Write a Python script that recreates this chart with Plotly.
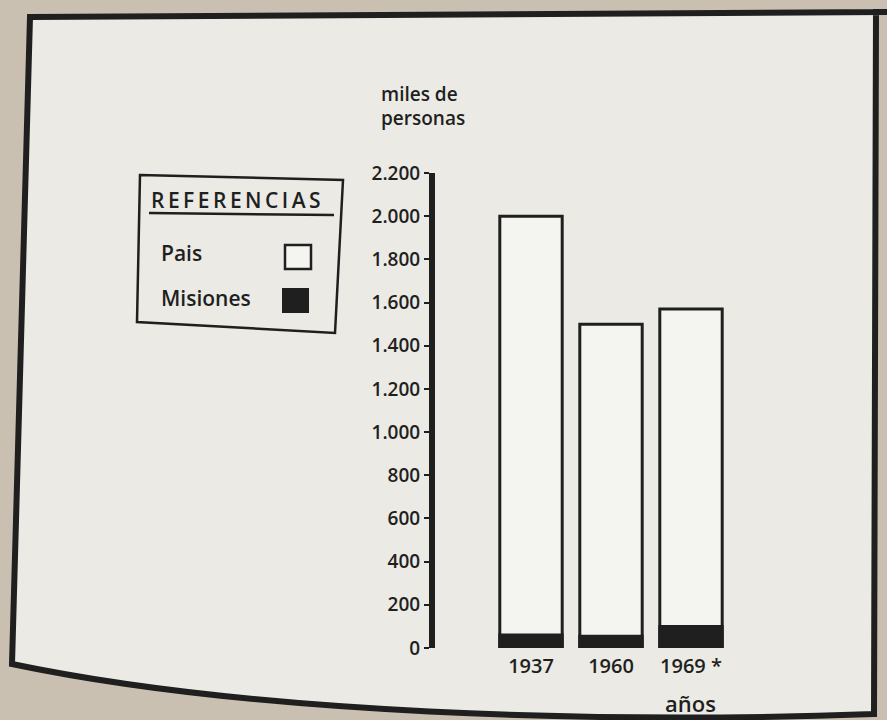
import plotly.graph_objects as go

# Population by year, in thousands of people
years = ["1937", "1960", "1969 *"]
pais = [2000, 1500, 1570]
misiones = [60, 55, 100]

y_ticks = [0, 200, 400, 600, 800, 1000, 1200, 1400, 1600, 1800, 2000, 2200]
y_tick_labels = ["0", "200", "400", "600", "800", "1.000", "1.200", "1.400",
                 "1.600", "1.800", "2.000", "2.200"]

W, H = 887, 720
PLOT_L, PLOT_R, PLOT_T, PLOT_B = 435, 731, 173, 648

INK = "#1f1f1f"
PAGE = "#ebeae4"
OUTSIDE = "#c9c0b2"
FONT = "Open Sans"
WEIGHT = 600


def px(x):
    return (x - PLOT_L) / (PLOT_R - PLOT_L)


def py(y):
    return (PLOT_B - y) / (PLOT_B - PLOT_T)


def pt(x, y):
    return f"{px(x):.5f},{py(y):.5f}"


def path(points, close=True):
    d = "M " + " L ".join(pt(x, y) for x, y in points)
    return d + (" Z" if close else "")


def tfont(size):
    return dict(family=FONT, size=size, color=INK, weight=WEIGHT)


def label(text, x, y, size, anchor="left"):
    return dict(text=text, x=px(x), y=py(y), xref="paper", yref="paper",
                xanchor=anchor, yanchor="middle", showarrow=False, font=tfont(size))


fig = go.Figure()

# Total for the country: open white bar
fig.add_trace(go.Bar(
    x=years, y=pais, name="Pais",
    marker=dict(color="#f4f4f0", line=dict(color=INK, width=3)),
    width=0.78,
))
# Misiones: solid dark bar drawn over the base of each country bar
fig.add_trace(go.Bar(
    x=years, y=misiones, name="Misiones",
    marker=dict(color=INK, line=dict(color=INK, width=3)),
    width=0.78,
))

shapes = []
# Page frame
shapes.append(dict(
    type="path", xref="paper", yref="paper", layer="below",
    path=(f"M {pt(30, 17)} L {pt(887, 12)} L {pt(876, 12)} L {pt(874, 714)} "
          f"C {pt(600, 724)} {pt(250, 714)} {pt(12, 664)} Z"),
    fillcolor=PAGE, line=dict(color=INK, width=6),
))
# Legend box
shapes.append(dict(
    type="path", xref="paper", yref="paper",
    path=path([(140, 175), (343, 180), (335, 333), (137, 322)]),
    line=dict(color=INK, width=2.5),
))
# Underline of the legend heading
shapes.append(dict(
    type="line", xref="paper", yref="paper",
    x0=px(149), y0=py(213), x1=px(334), y1=py(215),
    line=dict(color=INK, width=2.5),
))
# Legend swatches
shapes.append(dict(
    type="rect", xref="paper", yref="paper",
    x0=px(285), y0=py(245), x1=px(311), y1=py(269),
    fillcolor="#f4f4f0", line=dict(color=INK, width=2.5),
))
shapes.append(dict(
    type="rect", xref="paper", yref="paper",
    x0=px(283), y0=py(289), x1=px(308), y1=py(312),
    fillcolor=INK, line=dict(color=INK, width=2),
))

annotations = [
    label("miles de", 379, 94, 19),
    label("personas", 379, 118, 19),
    label("años", 690, 703, 22, anchor="center"),
    label("\u2009".join("REFERENCIAS"), 149, 200, 21),
    label("Pais", 159, 253, 21),
    label("Misiones", 159, 298, 21),
]

fig.update_layout(
    width=W, height=H,
    margin=dict(l=PLOT_L, r=W - PLOT_R, t=PLOT_T, b=H - PLOT_B, pad=0),
    paper_bgcolor=OUTSIDE,
    plot_bgcolor="rgba(0,0,0,0)",
    barmode="overlay",
    showlegend=False,
    shapes=shapes,
    annotations=annotations,
    font=dict(family=FONT, color=INK),
    xaxis=dict(
        type="category", range=[-1.2, 2.5],
        showline=False, showgrid=False, zeroline=False,
        ticks="", tickfont=tfont(20), ticklabelstandoff=4,
    ),
    yaxis=dict(
        range=[0, 2200], tickvals=y_ticks, ticktext=y_tick_labels,
        showline=True, linecolor=INK, linewidth=6,
        ticks="outside", ticklen=5, tickwidth=2, tickcolor=INK,
        showgrid=False, zeroline=False,
        tickfont=tfont(19), ticklabelstandoff=0,
    ),
)

fig.write_html("out.html")
